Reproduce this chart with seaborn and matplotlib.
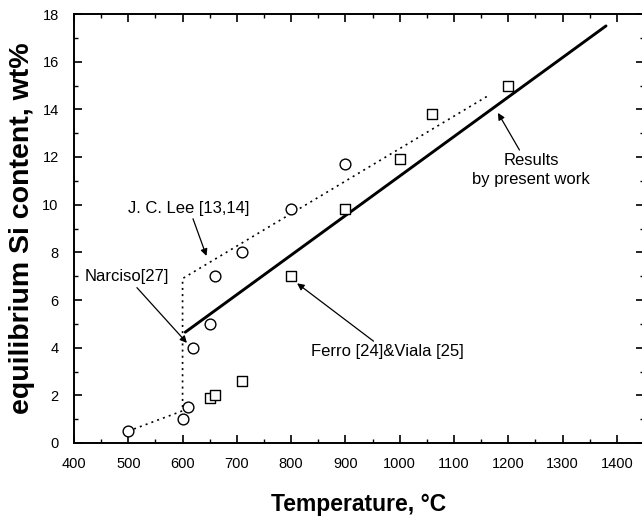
import matplotlib
matplotlib.use("Agg")
import matplotlib.pyplot as plt
import seaborn as sns
import pandas as pd
from matplotlib.ticker import MultipleLocator

# Data
circle_T = [500, 600, 610, 620, 650, 660, 710, 800, 900]
circle_Si = [0.5, 1.0, 1.5, 4.0, 5.0, 7.0, 8.0, 9.8, 11.7]
square_T = [650, 660, 710, 800, 900, 1000, 1060, 1200]
square_Si = [1.9, 2.0, 2.6, 7.0, 9.8, 11.9, 13.8, 15.0]
lee_T = [500, 600, 600, 1165]
lee_Si = [0.5, 1.35, 6.9, 14.6]
present_T = [605, 1380]
present_Si = [4.65, 17.5]

sns.set_theme(style="ticks")
plt.rcParams["font.family"] = ["Liberation Sans", "DejaVu Sans"]
plt.rcParams["text.color"] = "black"
plt.rcParams["axes.labelcolor"] = "black"
plt.rcParams["xtick.color"] = "black"
plt.rcParams["ytick.color"] = "black"

fig = plt.figure(figsize=(6.42, 5.17), dpi=100)
ax = fig.add_axes([74 / 642, (517 - 443) / 517, (644 - 74) / 642, (443 - 14) / 517])

df_c = pd.DataFrame({"T": circle_T, "Si": circle_Si})
df_s = pd.DataFrame({"T": square_T, "Si": square_Si})
df_l = pd.DataFrame({"T": lee_T, "Si": lee_Si})
df_p = pd.DataFrame({"T": present_T, "Si": present_Si})

sns.lineplot(data=df_l, x="T", y="Si", ax=ax, sort=False, estimator=None,
             color="black", lw=1.2, linestyle=(0, (1.2, 2.5)))
sns.lineplot(data=df_p, x="T", y="Si", ax=ax, sort=False, estimator=None,
             color="black", lw=2.1)
sns.scatterplot(data=df_c, x="T", y="Si", ax=ax, marker="o", s=60,
                facecolor="white", edgecolor="black", linewidth=1.0, zorder=3)
sns.scatterplot(data=df_s, x="T", y="Si", ax=ax, marker="s", s=42,
                facecolor="white", edgecolor="black", linewidth=1.0, zorder=3)

ax.set_xlim(400, 1450)
ax.set_ylim(0, 18)
ax.xaxis.set_major_locator(MultipleLocator(100))
ax.xaxis.set_minor_locator(MultipleLocator(50))
ax.yaxis.set_major_locator(MultipleLocator(2))
ax.yaxis.set_minor_locator(MultipleLocator(1))
ax.tick_params(which="both", direction="in", top=True, right=True, color="black")
ax.tick_params(which="major", length=6, width=1.2, labelsize=10.5, labelcolor="black")
ax.tick_params(axis="x", which="major", pad=10)
ax.tick_params(axis="y", which="major", pad=11)
ax.tick_params(which="minor", length=3, width=1.0)
for sp in ax.spines.values():
    sp.set_linewidth(1.4)
    sp.set_color("black")

ax.set_xlabel("Temperature, °C", fontsize=16.5, fontweight="bold", labelpad=16, color="black")
ax.set_ylabel("equilibrium Si content, wt%", fontsize=20.5, fontweight="bold", labelpad=5, color="black")

arrow = dict(arrowstyle="-|>", color="black", lw=0.9, mutation_scale=10, shrinkA=0, shrinkB=0)
ax.annotate("J. C. Lee [13,14]", xy=(644, 7.85), xytext=(612, 9.86),
            ha="center", va="center", fontsize=12, arrowprops=arrow)
ax.annotate("Narciso[27]", xy=(608, 4.2), xytext=(498, 6.97),
            ha="center", va="center", fontsize=12, arrowprops=arrow)
ax.annotate("Ferro [24]&Viala [25]", xy=(811, 6.7), xytext=(978, 3.82),
            ha="center", va="center", fontsize=12, arrowprops=arrow)
ax.annotate("Results\nby present work", xy=(1181, 13.85), xytext=(1242, 11.45),
            ha="center", va="center", fontsize=12, linespacing=1.3, arrowprops=arrow)

fig.savefig("out.png", dpi=100)
